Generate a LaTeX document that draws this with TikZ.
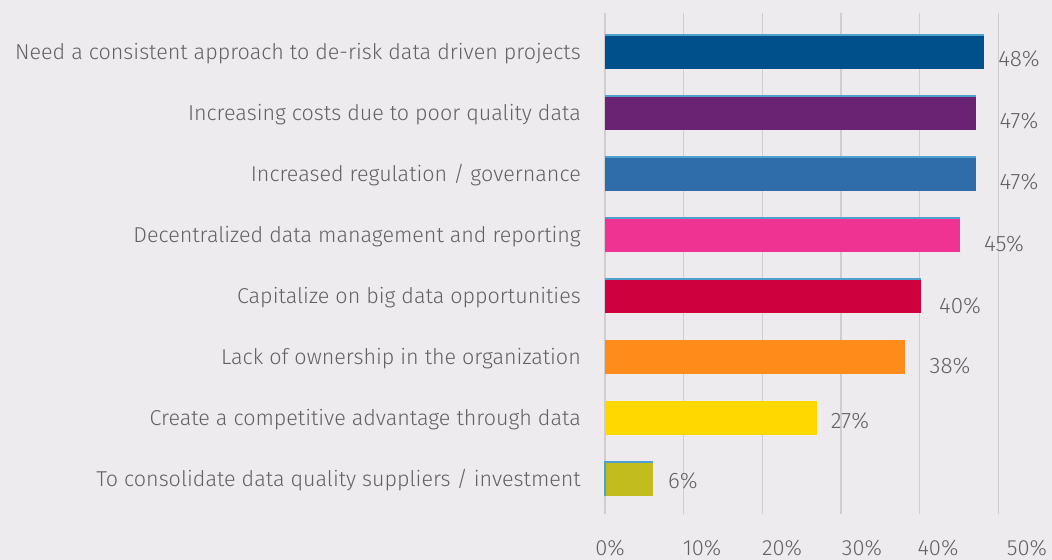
\documentclass[tikz,border=0pt]{standalone}
\usepackage{fontspec}
\setmainfont{Fira Sans Light}
\begin{document}
\begin{tikzpicture}[x=1bp,y=-1bp,
  lbl/.style={anchor=base east,inner sep=0pt,text=txtgray,font=\fontsize{21.6}{24}\selectfont},
  val/.style={anchor=base,inner sep=0pt,text=txtgray,font=\fontsize{22.5}{24}\selectfont},
  axl/.style={anchor=base,inner sep=0pt,text depth=0pt,text=txtgray,font=\fontsize{22}{24}\selectfont},
  grid/.style={draw=gridgray,line width=1.4bp},
  barbox/.style={inner sep=0pt,outer sep=0pt,anchor=north west,minimum height=34bp},
  edge/.style={draw=edgeblue,line width=1.2bp}]
\definecolor{bg}{HTML}{EDEBEE}
\definecolor{txtgray}{HTML}{626262}
\definecolor{gridgray}{HTML}{CFCDD1}
\definecolor{edgeblue}{HTML}{4FA0CC}
\definecolor{cA}{HTML}{00508C}
\definecolor{cB}{HTML}{6A2373}
\definecolor{cC}{HTML}{2E6DAA}
\definecolor{cD}{HTML}{EE3393}
\definecolor{cE}{HTML}{CE003D}
\definecolor{cF}{HTML}{FF8C1A}
\definecolor{cG}{HTML}{FFD800}
\definecolor{cH}{HTML}{C2BC1E}
\fill[bg] (0,0) rectangle (1052,560);
\useasboundingbox (0,0) rectangle (1052,560);
% grid
\foreach \i in {0,...,5} {
  \draw[grid] ({605+78.66*\i},13) -- ({605+78.66*\i},514);
}
% bars
\def\u{7.866}
\node[barbox,fill=cA,minimum width={48.2*\u bp}] (b1) at (605,35) {};
\node[barbox,fill=cB,minimum width={47.1*\u bp}] (b2) at (605,96) {};
\node[barbox,fill=cC,minimum width={47.1*\u bp}] (b3) at (605,157) {};
\node[barbox,fill=cD,minimum width={45.1*\u bp}] (b4) at (605,218) {};
\node[barbox,fill=cE,minimum width={40.2*\u bp}] (b5) at (605,279) {};
\node[barbox,fill=cF,minimum width={38.1*\u bp}] (b6) at (605,340) {};
\node[barbox,fill=cG,minimum width={27.0*\u bp}] (b7) at (605,401) {};
\node[barbox,fill=cH,minimum width={6.06*\u bp}] (b8) at (605,462) {};
\foreach \b in {b1,b2,b3,b4,b5} {
  \draw[edge] (\b.north west) -- (\b.north east);
}
\draw[edge] (b8.south west) -- (b8.north west) -- (b8.north east);
% category labels
\node[lbl] (l1) at (581,59.3) {Need a consistent approach to de-risk data driven projects};
\node[lbl] (l2) at (581,120.3) {Increasing costs due to poor quality data};
\node[lbl] (l3) at (581,181.3) {Increased regulation / governance};
\node[lbl] (l4) at (581,242.3) {Decentralized data management and reporting};
\node[lbl] (l5) at (581,303.3) {Capitalize on big data opportunities};
\node[lbl] (l6) at (581,364.3) {Lack of ownership in the organization};
\node[lbl] (l7) at (581,425.3) {Create a competitive advantage through data};
\node[lbl] (l8) at (581,486.3) {To consolidate data quality suppliers / investment};
% values
\node[val] (v1) at (1019,66.7) {48\%};
\node[val] (v2) at (1019,128.3) {47\%};
\node[val] (v3) at (1019,190) {47\%};
\node[val] (v4) at (1004,251.7) {45\%};
\node[val] (v5) at (960,313.3) {40\%};
\node[val] (v6) at (950,374) {38\%};
\node[val] (v7) at (850,428.3) {27\%};
\node[val] (v8) at (683,488.3) {6\%};
% axis labels
\node[axl] (a0) at (610,555.5) {0\%};
\node[axl] (a1) at (702,555.5) {10\%};
\node[axl] (a2) at (782,555.5) {20\%};
\node[axl] (a3) at (862,555.5) {30\%};
\node[axl] (a4) at (938,555.5) {40\%};
\node[axl] (a5) at (1027,555.5) {50\%};
\end{tikzpicture}
\end{document}
